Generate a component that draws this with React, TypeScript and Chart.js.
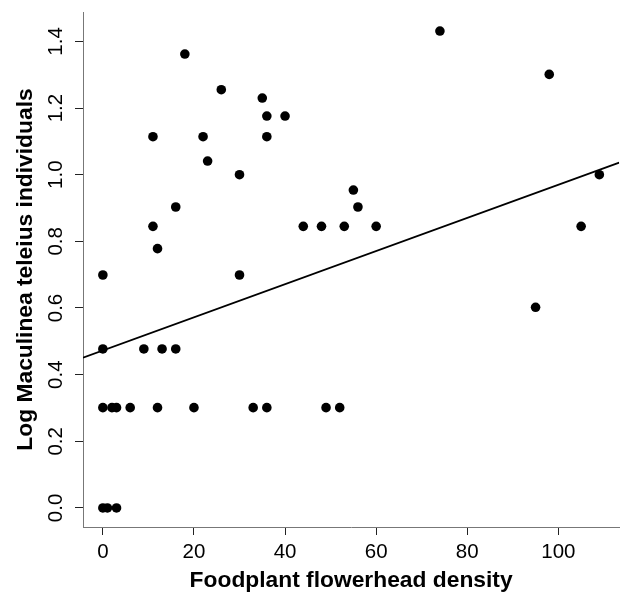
import React, { useEffect, useRef } from 'react';
import { Chart, registerables } from 'chart.js';

Chart.register(...registerables);

// Foodplant flowerhead density (x) and log Maculinea teleius individuals (y)
const densityX = [
  0, 18, 26, 35, 36, 40, 11, 22, 36, 23, 30, 16, 11, 12, 30, 44, 48, 53, 55, 56,
  74, 98, 109, 105, 60, 95, 0, 9, 13, 16,
  0, 2, 3, 6, 12, 20, 33, 36, 49, 52,
  0, 1, 3,
];
const logTeleius = [
  0.699, 1.362, 1.255, 1.230, 1.176, 1.176, 1.114, 1.114, 1.114, 1.041, 1.0, 0.903, 0.845, 0.778, 0.699, 0.845, 0.845, 0.845, 0.954, 0.903,
  1.431, 1.301, 1.0, 0.845, 0.845, 0.602, 0.477, 0.477, 0.477, 0.477,
  0.301, 0.301, 0.301, 0.301, 0.301, 0.301, 0.301, 0.301, 0.301, 0.301,
  0, 0, 0,
];

// fitted regression line
const fitIntercept = 0.4727;
const fitSlope = 0.00497;

const xRange = [-4.36, 113.36];
const yRange = [-0.0572, 1.4882];
const xTickValues = [0, 20, 40, 60, 80, 100];
const yTickValues = [0, 0.2, 0.4, 0.6, 0.8, 1.0, 1.2, 1.4];

const xTitle = 'Foodplant flowerhead density';
const yTitle = 'Log Maculinea teleius individuals';

const FONT = "'Liberation Sans', Arial, Helvetica, sans-serif";

export default function App() {
  const ref = useRef<HTMLCanvasElement | null>(null);

  useEffect(() => {
    if (!ref.current) return;
    const points = densityX.map((x, i) => ({ x, y: logTeleius[i] }));
    const linePts = xRange.map((x) => ({ x, y: fitIntercept + fitSlope * x }));

    const chart = new Chart(ref.current, {
      type: 'scatter',
      data: {
        datasets: [
          {
            type: 'line',
            data: linePts,
            borderColor: '#000',
            borderWidth: 1.8,
            pointRadius: 0,
            fill: false,
            tension: 0,
          } as any,
          {
            data: points,
            backgroundColor: '#000',
            borderColor: '#000',
            pointRadius: 4.8,
            pointHoverRadius: 4.8,
            borderWidth: 0,
          },
        ],
      },
      options: {
        responsive: false,
        animation: false,
        devicePixelRatio: 1,
        layout: { padding: { top: 12, right: 2, left: 0, bottom: 0 } },
        plugins: { legend: { display: false }, tooltip: { enabled: false } },
        scales: {
          x: {
            type: 'linear',
            min: xRange[0],
            max: xRange[1],
            afterBuildTicks: (axis: any) => {
              axis.ticks = xTickValues.map((v) => ({ value: v }));
            },
            afterFit: (s: any) => {
              s.height = 71;
              s.paddingLeft = 0;
              s.paddingRight = 0;
            },
            grid: { drawOnChartArea: false, drawTicks: true, tickLength: 8, color: '#222', lineWidth: 1 },
            border: { display: true, color: '#777', width: 1 },
            ticks: {
              color: '#000',
              padding: 5,
              maxRotation: 0,
              minRotation: 0,
              font: { family: FONT, size: 20.5 },
              callback: (v: any) => String(v),
            },
            title: {
              display: true,
              text: xTitle,
              color: '#000',
              font: { family: FONT, size: 22.8, weight: 'bold' },
              padding: { top: 0, bottom: 3.3 },
            },
          },
          y: {
            type: 'linear',
            min: yRange[0],
            max: yRange[1],
            afterBuildTicks: (axis: any) => {
              axis.ticks = yTickValues.map((v) => ({ value: v }));
            },
            afterFit: (s: any) => {
              s.width = 83;
              s.paddingTop = 0;
              s.paddingBottom = 0;
            },
            grid: { drawOnChartArea: false, drawTicks: true, tickLength: 8, color: '#222', lineWidth: 1 },
            border: { display: true, color: '#777', width: 1 },
            ticks: {
              color: '#000',
              padding: 4,
              minRotation: 90,
              maxRotation: 90,
              crossAlign: 'center',
              font: { family: FONT, size: 20.5 },
              callback: (v: any) => Number(v).toFixed(1),
            },
            title: {
              display: true,
              text: yTitle,
              color: '#000',
              font: { family: FONT, size: 22.8, weight: 'bold' },
              padding: { top: 12, bottom: 0 },
            },
          },
        },
      },
    });
    return () => chart.destroy();
  }, []);

  return (
    <div style={{ position: 'fixed', left: 0, top: 0, width: 624, height: 598, background: '#fff' }}>
      <canvas ref={ref} width={624} height={598} style={{ width: 624, height: 598, display: 'block' }} />
    </div>
  );
}
